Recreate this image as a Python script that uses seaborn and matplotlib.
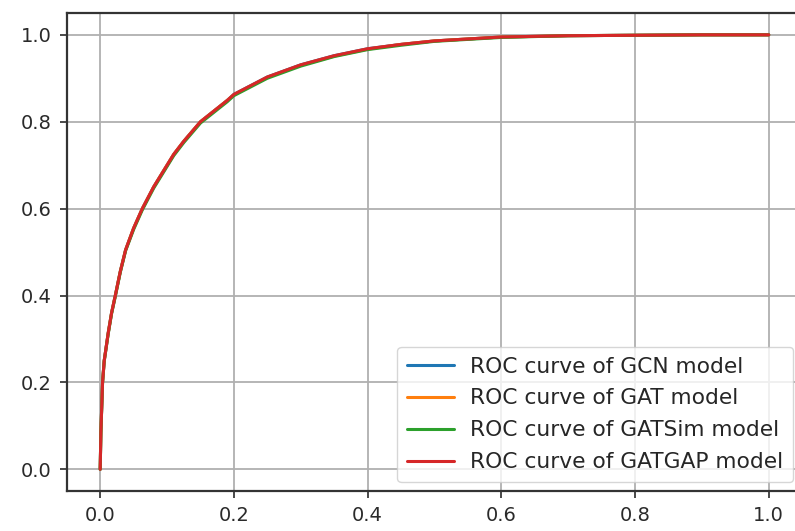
import pandas as pd
import matplotlib
matplotlib.use("Agg")
import matplotlib.pyplot as plt
import seaborn as sns

# False positive rates (shared by all four curves)
fpr = [0.0, 0.001, 0.0035, 0.006, 0.012, 0.017, 0.0226, 0.03, 0.038, 0.05,
       0.063, 0.08, 0.098, 0.11, 0.125, 0.15, 0.19, 0.2, 0.25, 0.3, 0.35,
       0.4, 0.45, 0.5, 0.6, 0.7, 0.8, 0.9, 1.0]

# True positive rates per model (curves almost overlap)
tpr_gcn = [0.0, 0.085, 0.2, 0.25, 0.314, 0.36, 0.4, 0.455, 0.505, 0.555,
           0.6, 0.65, 0.695, 0.725, 0.755, 0.8, 0.849, 0.863, 0.903, 0.931, 0.952,
           0.968, 0.978, 0.986, 0.995, 0.998, 0.999, 1.0, 1.0]
tpr_gat = [0.0, 0.085, 0.2, 0.25, 0.314, 0.36, 0.4, 0.455, 0.505, 0.555,
           0.6, 0.65, 0.695, 0.725, 0.755, 0.8, 0.849, 0.862, 0.902, 0.930, 0.951,
           0.967, 0.978, 0.986, 0.995, 0.998, 0.999, 1.0, 1.0]
tpr_gatsim = [0.0, 0.084, 0.199, 0.249, 0.312, 0.358, 0.398, 0.453, 0.503, 0.552,
              0.597, 0.647, 0.692, 0.722, 0.752, 0.797, 0.846, 0.860, 0.900, 0.928, 0.950,
              0.966, 0.976, 0.985, 0.994, 0.998, 0.999, 1.0, 1.0]
tpr_gatgap = [0.0, 0.085, 0.2, 0.25, 0.314, 0.36, 0.4, 0.455, 0.505, 0.555,
              0.6, 0.65, 0.695, 0.725, 0.755, 0.8, 0.849, 0.863, 0.903, 0.931, 0.952,
              0.968, 0.978, 0.986, 0.995, 0.998, 0.999, 1.0, 1.0]

labels = ["ROC curve of GCN model", "ROC curve of GAT model",
          "ROC curve of GATSim model", "ROC curve of GATGAP model"]
x_ticks = [0.0, 0.2, 0.4, 0.6, 0.8, 1.0]
y_ticks = [0.0, 0.2, 0.4, 0.6, 0.8, 1.0]


def build_frame():
    rows = []
    for label, tpr in zip(labels, [tpr_gcn, tpr_gat, tpr_gatsim, tpr_gatgap]):
        for x, y in zip(fpr, tpr):
            rows.append({"fpr": x, "tpr": y, "model": label})
    return pd.DataFrame(rows)


def main():
    sns.set_theme(style="ticks")
    plt.rcParams["font.family"] = ["DejaVu Sans"]

    df = build_frame()

    fig = plt.figure(figsize=(7.95, 5.31), dpi=100)
    ax = fig.add_axes([0.084, 0.0753, 0.925, 0.900])

    sns.lineplot(data=df, x="fpr", y="tpr", hue="model", hue_order=labels,
                 palette=sns.color_palette("tab10", 4), estimator=None,
                 sort=False, linewidth=2.2, ax=ax)

    ax.set_xlim(-0.05, 1.05)
    ax.set_ylim(-0.05, 1.05)
    ax.set_xticks(x_ticks)
    ax.set_yticks(y_ticks)
    ax.set_xticklabels([f"{t:.1f}" for t in x_ticks])
    ax.set_yticklabels([f"{t:.1f}" for t in y_ticks])
    ax.set_xlabel("")
    ax.set_ylabel("")
    ax.grid(True, color="#b0b0b0", linewidth=1.3)
    ax.tick_params(labelsize=14, length=5, width=1.2, pad=6, colors="#2a2a2a")
    for spine in ax.spines.values():
        spine.set_color("#333333")
        spine.set_linewidth(1.6)
    ax.spines["right"].set_visible(False)

    leg = ax.legend(loc="lower right", fontsize=15.7, frameon=True,
                    framealpha=0.8, borderpad=0.45, handlelength=2.15,
                    handletextpad=0.75, labelspacing=0.55, borderaxespad=0.4)
    for line in leg.get_lines():
        line.set_linewidth(2.2)

    fig.savefig("out.png", dpi=100)


if __name__ == "__main__":
    main()
